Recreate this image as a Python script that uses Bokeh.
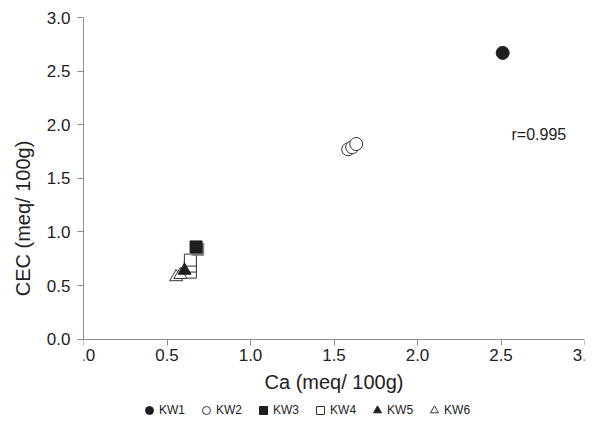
from bokeh.plotting import figure
from bokeh.models import (Legend, LegendItem, ColumnDataSource, Range1d, FixedTicker,
                          Label, CustomJSTickFormatter)
from bokeh.embed import file_html
from bokeh.resources import INLINE

# Data (Ca vs CEC, meq/100g)
kw1_x = [2.51]
kw1_y = [2.67]
kw2_x = [1.585, 1.609, 1.633]
kw2_y = [1.77, 1.79, 1.82]
kw3_x = [0.684, 0.674]
kw3_y = [0.838, 0.86]
kw3_shade = ["#7a7a7a", "#1e1e1e"]
kw4_x = [0.64, 0.64, 0.64]
kw4_y = [0.625, 0.681, 0.737]
kw5_x = [0.605]
kw5_y = [0.64]
kw6_x = [0.555, 0.58]
kw6_y = [0.58, 0.60]
ticks = [0.0, 0.5, 1.0, 1.5, 2.0, 2.5, 3.0]
r_text = "r=0.995"

FONT = "Liberation Sans"
AX = "#8c8c8c"

# frame extends below y=0 to leave room for the legend; x-axis fixed at y=0
p = figure(frame_width=501, frame_height=402, output_backend="svg",
           toolbar_location=None, x_range=Range1d(0, 3), y_range=Range1d(-0.75, 3),
           min_border_left=83, min_border_right=16, min_border_top=17,
           min_border_bottom=0)
p.outline_line_color = None
p.xgrid.visible = False
p.ygrid.visible = False

fmt = CustomJSTickFormatter(code="return tick.toFixed(1);")
for ax in (p.xaxis[0], p.yaxis[0]):
    ax.ticker = FixedTicker(ticks=ticks)
    ax.formatter = fmt
    ax.minor_tick_line_color = None
    ax.axis_line_color = AX
    ax.major_tick_line_color = AX
    ax.major_tick_in = 0
    ax.major_tick_out = 6
    ax.major_label_text_font = FONT
    ax.major_label_text_font_size = "17px"
    ax.major_label_text_color = "#222222"
    ax.axis_label_text_font = FONT
    ax.axis_label_text_font_size = "20px"
    ax.axis_label_text_font_style = "normal"
    ax.axis_label_text_color = "#222222"
p.xaxis.axis_label = "Ca (meq/ 100g)"
p.yaxis.axis_label = "CEC (meq/ 100g)"
p.xaxis.fixed_location = 0
p.yaxis.bounds = (0, 3)
p.xaxis.major_label_standoff = 4
p.xaxis.axis_label_standoff = 6
p.yaxis.major_label_standoff = 7
p.yaxis.axis_label_standoff = 10

BLK = "#1e1e1e"
r1 = p.scatter(kw1_x, kw1_y, marker="circle", size=13, fill_color=BLK, line_color=BLK)
r2 = p.scatter(kw2_x, kw2_y, marker="circle", size=13, fill_color="white", line_color="#333333", line_width=1)
r4 = p.scatter(kw4_x, kw4_y, marker="square", size=12, fill_color="white", line_color="#333333", line_width=1)
r6 = p.scatter(kw6_x, kw6_y, marker="triangle", size=13, fill_color="white", line_color="#333333", line_width=1)
r5 = p.scatter(kw5_x, kw5_y, marker="triangle", size=13, fill_color=BLK, line_color=BLK)
src3 = ColumnDataSource(dict(x=kw3_x, y=kw3_y, c=kw3_shade))
r3 = p.scatter("x", "y", source=src3, marker="square", size=12, fill_color="c", line_color="c")

p.add_layout(Label(x=2.563, y=1.912, text=r_text, text_font=FONT, text_font_size="16px",
                   text_color="#222222", text_baseline="middle"))

legend = Legend(items=[
    LegendItem(label="KW1", renderers=[r1]),
    LegendItem(label="KW2", renderers=[r2]),
    LegendItem(label="KW3", renderers=[r3], index=1),
    LegendItem(label="KW4", renderers=[r4]),
    LegendItem(label="KW5", renderers=[r5]),
    LegendItem(label="KW6", renderers=[r6]),
], orientation="horizontal", location=(56, -1), label_text_font=FONT,
    label_text_font_size="12px", label_text_color="#222222",
    glyph_width=20, glyph_height=20, label_standoff=-3, spacing=11,
    padding=0, margin=0, border_line_color=None, background_fill_alpha=0,
    label_height=20)
p.add_layout(legend, "center")

open("out.html", "w").write(file_html(p, INLINE))
